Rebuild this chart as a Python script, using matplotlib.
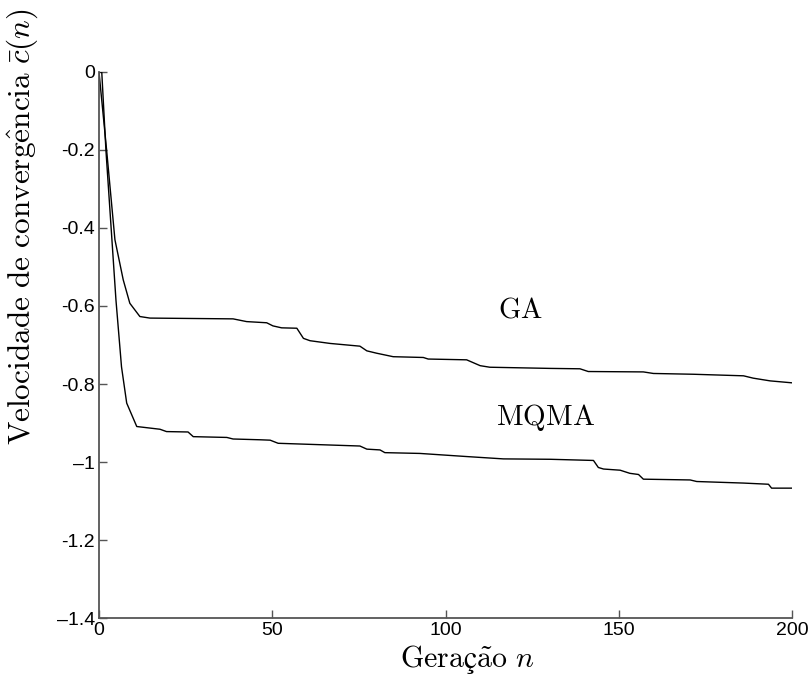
import matplotlib
matplotlib.use("Agg")
import matplotlib.pyplot as plt

plt.rcParams["mathtext.fontset"] = "cm"

# curvas (geração, velocidade de convergência)
ga_n = [0, 2.2, 4.6, 7.0, 8.9, 11.8, 14.7, 38.7, 42.6, 48.4, 50.2, 52.7, 57.1,
        59.0, 60.9, 66.7, 75.3, 77.3, 80.1, 84.9, 93.6, 95.0, 106.1, 110.0,
        112.8, 130.2, 138.8, 141.2, 157.1, 160.0, 171.5, 186.0, 188.8, 193.7, 200]
ga_c = [0, -0.20, -0.43, -0.533, -0.593, -0.627, -0.631, -0.633, -0.640,
        -0.643, -0.651, -0.656, -0.657, -0.683, -0.689, -0.696, -0.703, -0.715,
        -0.721, -0.730, -0.732, -0.736, -0.738, -0.753, -0.757, -0.760, -0.761,
        -0.768, -0.769, -0.773, -0.775, -0.779, -0.785, -0.792, -0.797]

mqma_n = [0, 0.8, 2.0, 4.9, 6.1, 6.5, 8.0, 10.9, 17.6, 19.5, 25.7, 27.2, 36.9,
          38.7, 46.5, 49.4, 51.7, 75.3, 77.3, 81.1, 82.5, 92.6, 106.1, 116.7,
          130.2, 142.7, 144.1, 145.6, 150.4, 153.2, 155.7, 157.1, 170.6, 172.5,
          186.0, 193.2, 194.1, 200]
mqma_c = [0, 0, -0.20, -0.585, -0.713, -0.756, -0.849, -0.909, -0.916, -0.922,
          -0.923, -0.935, -0.937, -0.941, -0.943, -0.944, -0.952, -0.959, -0.967,
          -0.969, -0.976, -0.978, -0.986, -0.992, -0.993, -0.996, -1.014, -1.018,
          -1.021, -1.029, -1.032, -1.044, -1.046, -1.050, -1.054, -1.057, -1.067,
          -1.067]

x_ticks = [0, 50, 100, 150, 200]
y_ticks = [0, -0.2, -0.4, -0.6, -0.8, -1, -1.2, -1.4]
y_ticklabels = ["0", "-0.2", "-0.4", "-0.6", "-0.8", "\u20131", "-1.2", "\u20131.4"]

sans = ["Liberation Sans", "DejaVu Sans"]

fig = plt.figure(figsize=(8.12, 6.79), dpi=100)
ax = fig.add_axes([0.1219, 0.0898, 0.8535, 0.8042])

ax.plot(ga_n, ga_c, color="black", lw=1.0)
ax.plot(mqma_n, mqma_c, color="black", lw=1.0)

ax.text(121.5, -0.61, r"$\mathrm{GA}$", fontsize=20.5, ha="center", va="center")
ax.text(129, -0.887, r"$\mathrm{MQMA}$", fontsize=21, ha="center", va="center")

ax.set_xlim(0, 200)
ax.set_ylim(-1.4, 0)
ax.set_xticks(x_ticks)
ax.set_xticklabels([str(t) for t in x_ticks], family=sans, fontsize=14)
ax.set_yticks(y_ticks)
ax.set_yticklabels(y_ticklabels, family=sans, fontsize=14)
ax.tick_params(direction="in", length=6, width=1.0, color="#555555", pad=3)

for s in ("top", "right"):
    ax.spines[s].set_visible(False)
for s in ("left", "bottom"):
    ax.spines[s].set_color("#555555")
    ax.spines[s].set_linewidth(1.3)

ax.set_xlabel(r"$\mathrm{Geraç\tilde{a}o}\ n$", fontsize=21.5)
ax.xaxis.set_label_coords(0.531, -0.045)
ax.set_ylabel(r"$\mathrm{Velocidade\ de\ converg\hat{e}ncia}\ \bar{c}(n)$",
              fontsize=22.5)
ax.yaxis.set_label_coords(-0.085, 0.716)

fig.savefig("out.png", dpi=100)
